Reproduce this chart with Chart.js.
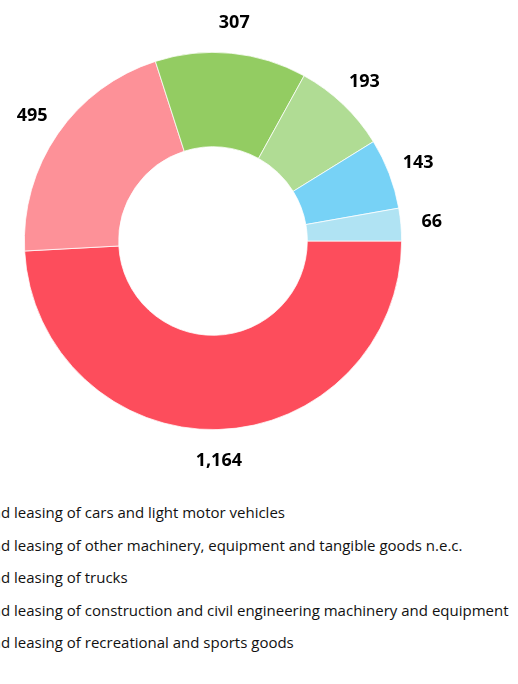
<!DOCTYPE html>
<html>
<head>
<meta charset="utf-8">
<script src="https://cdn.jsdelivr.net/npm/chart.js@4"></script>
<style>
  html, body { margin: 0; padding: 0; background: #fff; overflow: hidden; }
  body { width: 518px; height: 684px; position: relative; font-family: 'Open Sans', sans-serif; }
  #chartBox { position: absolute; left: 0; top: 0; width: 518px; height: 482px; }
  #legend { position: absolute; top: 496px; white-space: nowrap; }
  .legend-item { height: 32.5px; line-height: 32.5px; font-size: 15px; color: #111; display: flex; align-items: center; }
  .legend-swatch { width: 12px; height: 12px; margin-right: 8px; flex: none; }
</style>
</head>
<body>
<div id="chartBox"><canvas id="donut"></canvas></div>
<div id="legend"></div>
<script>
// ── Renting and leasing: number by activity ──
const prefix = 'Renting an';
const labels = [
  'Renting and leasing of cars and light motor vehicles',
  'Renting and leasing of other machinery, equipment and tangible goods n.e.c.',
  'Renting and leasing of trucks',
  'Renting and leasing of construction and civil engineering machinery and equipment',
  'Renting and leasing of recreational and sports goods',
  'Renting and leasing of office machinery and equipment'
];
const values = [1164, 495, 307, 193, 143, 66];
const colors = ['#fd4d5c', '#fd9198', '#93cc62', '#b0dc94', '#77d2f6', '#b0e3f3'];
const legendCount = 5; // only five entries show below the chart

// value labels sit outside each slice, at its middle angle
const outsideLabels = {
  id: 'outsideLabels',
  afterDatasetsDraw(chart) {
    const ctx = chart.ctx;
    const meta = chart.getDatasetMeta(0);
    ctx.save();
    ctx.font = 'bold 18px "Open Sans", sans-serif';
    ctx.fillStyle = '#000';
    ctx.textAlign = 'center';
    ctx.textBaseline = 'middle';
    meta.data.forEach((arc, i) => {
      const p = arc.getProps(['x', 'y', 'startAngle', 'endAngle', 'outerRadius'], true);
      const mid = (p.startAngle + p.endAngle) / 2;
      const r = p.outerRadius + 31;
      ctx.fillText(values[i].toLocaleString('en-US'), p.x + Math.cos(mid) * r, p.y + Math.sin(mid) * r);
    });
    ctx.restore();
  }
};

new Chart(document.getElementById('donut'), {
  type: 'doughnut',
  data: {
    labels: labels,
    datasets: [{
      data: values,
      backgroundColor: colors,
      borderColor: '#ffffff',
      borderWidth: 0.75
    }]
  },
  options: {
    responsive: true,
    maintainAspectRatio: false,
    animation: false,
    rotation: 90,
    cutout: '50%',
    layout: { padding: { left: 24, right: 116, top: 52, bottom: 52 } },
    plugins: { legend: { display: false }, tooltip: { enabled: false } }
  },
  plugins: [outsideLabels]
});

// legend below, shifted so its left part falls outside the frame like the original
const legendEl = document.getElementById('legend');
legendEl.innerHTML = labels.slice(0, legendCount).map((l, i) => `
  <div class="legend-item"><span class="legend-swatch" style="background:${colors[i]}"></span><span class="pre">${l.slice(0, prefix.length)}</span><span>${l.slice(prefix.length)}</span></div>
`).join('');
legendEl.style.left = '0px';
const preRight = legendEl.querySelector('.pre').getBoundingClientRect().right;
legendEl.style.left = (1 - preRight) + 'px';
</script>
</body>
</html>
